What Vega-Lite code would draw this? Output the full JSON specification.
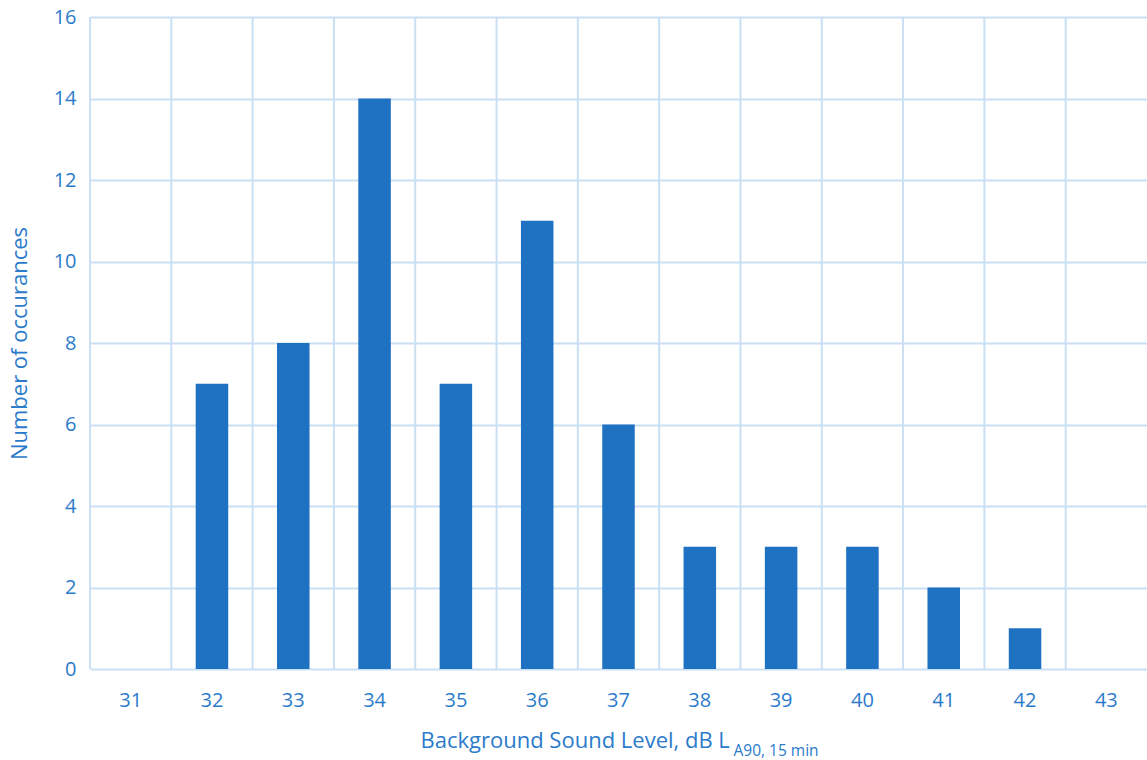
{
  "$schema": "https://vega.github.io/schema/vega-lite/v6.json",
  "autosize": {"type": "none"},
  "width": 1057,
  "height": 652,
  "padding": {"left": 90, "top": 17, "right": 0, "bottom": 91},
  "background": "white",
  "config": {
    "view": {"stroke": null},
    "font": "Open Sans",
    "axis": {"labelColor": "#2B7BCB", "titleColor": "#2B7BCB", "labelFont": "Open Sans", "titleFont": "Open Sans", "titleFontWeight": "normal"}
  },
  "data": {
    "values": [
      {"level": "31", "count": 0},
      {"level": "32", "count": 7},
      {"level": "33", "count": 8},
      {"level": "34", "count": 14},
      {"level": "35", "count": 7},
      {"level": "36", "count": 11},
      {"level": "37", "count": 6},
      {"level": "38", "count": 3},
      {"level": "39", "count": 3},
      {"level": "40", "count": 3},
      {"level": "41", "count": 2},
      {"level": "42", "count": 1},
      {"level": "43", "count": 0}
    ]
  },
  "resolve": {"axis": {"x": "independent"}},
  "layer": [
    {
      "mark": {"type": "rule", "color": "#C9DFF3", "strokeWidth": 2},
      "encoding": {
        "x": {
          "field": "level", "type": "ordinal", "bandPosition": 0,
          "scale": {"paddingInner": 0, "paddingOuter": 0},
          "axis": {
            "orient": "bottom",
            "title": "A90, 15 min", "titleFontSize": 15.5, "titleX": 643, "titleY": 86,
            "titleAlign": "left", "titleBaseline": "alphabetic", "titleAnchor": null,
            "labels": false, "ticks": false, "domain": false, "grid": false
          }
        }
      }
    },
    {
      "mark": {"type": "bar", "color": "#1F71C1", "width": {"band": 0.4}},
      "encoding": {
        "x": {
          "field": "level", "type": "ordinal",
          "axis": {
            "orient": "bottom",
            "title": "Background Sound Level, dB L", "titleFontSize": 22,
            "titleX": 330, "titleY": 78, "titleAlign": "left", "titleBaseline": "alphabetic", "titleAnchor": null,
            "labelAngle": 0, "labelFontSize": 20, "labelPadding": 21,
            "ticks": false, "domain": false, "grid": false
          }
        },
        "y": {
          "field": "count", "type": "quantitative",
          "scale": {"domain": [0, 16]},
          "axis": {
            "title": "Number of occurances", "titleFontSize": 22, "titlePadding": 22,
            "values": [0, 2, 4, 6, 8, 10, 12, 14, 16],
            "labelFontSize": 20, "labelPadding": 14,
            "ticks": false, "domain": false,
            "grid": true, "gridColor": "#C9DFF3", "gridWidth": 2
          }
        }
      }
    }
  ]
}
